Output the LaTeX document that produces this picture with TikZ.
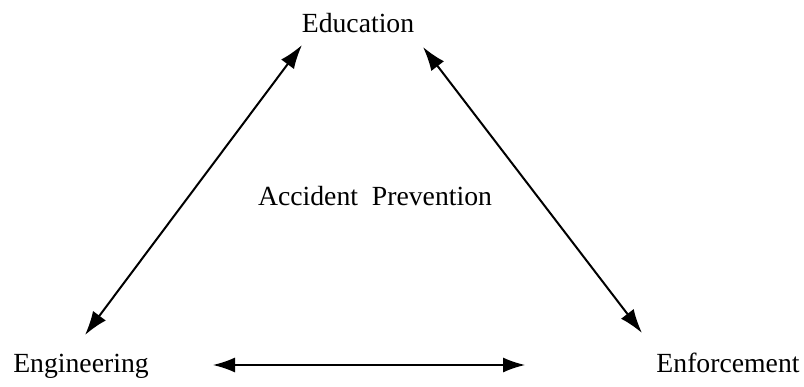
\documentclass[tikz,border=0pt]{standalone}
\usepackage{fontspec}
\setmainfont{Liberation Serif}
\usetikzlibrary{arrows.meta}
\begin{document}
\begin{tikzpicture}[x=1pt,y=-1pt,
  lbl/.style={inner sep=0pt,anchor=base,font=\fontsize{27.7}{33}\selectfont},
  link/.style={{Latex[length=24pt,width=16pt]}-{Latex[length=24pt,width=16pt]},line width=2pt},
  hlink/.style={{Latex[length=22pt,width=15pt]}-{Latex[length=22pt,width=15pt]},line width=1.3pt}]
\useasboundingbox (0,0) rectangle (804,386);
\node[lbl] (edu) at (358,32) {Education};
\node[lbl] (acc) at (375,205) {Accident\ \ Prevention};
\node[lbl] (eng) at (81,372) {Engineering};
\node[lbl] (enf) at (728,372) {Enforcement};
\coordinate (eduL) at (302,45);
\coordinate (eduR) at (423,47);
\coordinate (engT) at (85,335);
\coordinate (engR) at (213,365);
\coordinate (enfT) at (642,333);
\coordinate (enfL) at (525,365);
\draw[link] (engT) -- (eduL);
\draw[link] (eduR) -- (enfT);
\draw[hlink] (engR) -- (enfL);
\end{tikzpicture}
\end{document}
